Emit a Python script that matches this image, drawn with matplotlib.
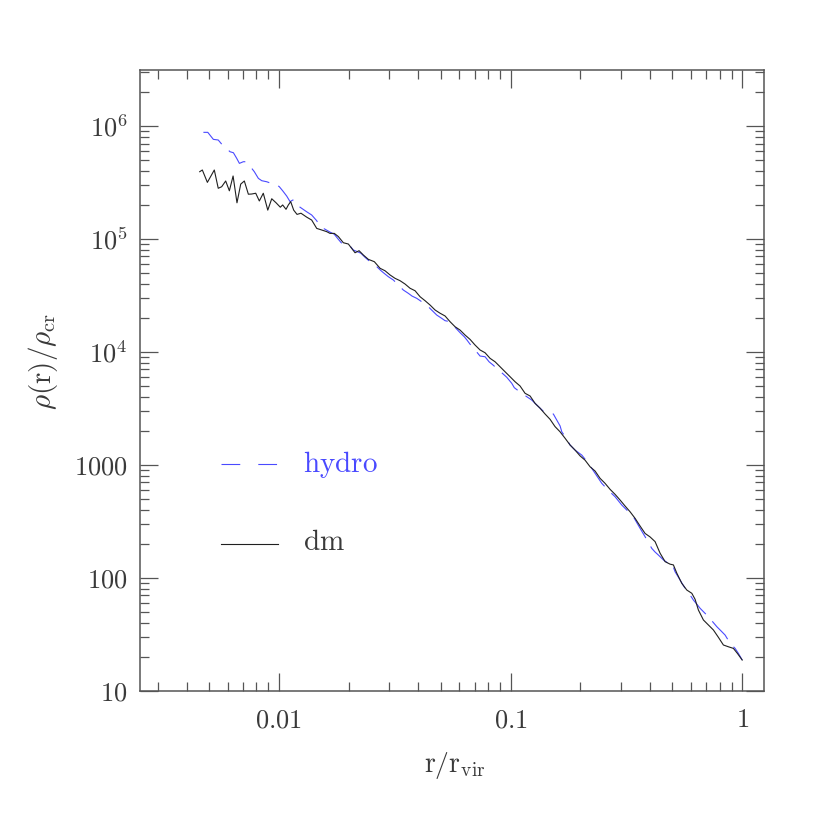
import matplotlib
matplotlib.use("Agg")
import matplotlib.pyplot as plt
from matplotlib.ticker import FixedLocator, FixedFormatter, NullFormatter

plt.rcParams['mathtext.fontset'] = 'cm'
plt.rcParams['lines.scale_dashes'] = False

# ---- data ----
r_dm = [0.00455, 0.00467, 0.00491, 0.00526, 0.00547, 0.00566, 0.00589, 0.00611, 0.00634, 0.00659,
        0.00684, 0.00709, 0.00738, 0.00763, 0.00794, 0.00823, 0.00856, 0.00895, 0.00931, 0.00972,
        0.01014, 0.01038, 0.01073, 0.01098, 0.01124, 0.01158, 0.01197, 0.01245, 0.01318, 0.01385,
        0.01456, 0.01531, 0.01609, 0.01662, 0.01734, 0.01805, 0.01897, 0.01994, 0.02131, 0.02218,
        0.02314, 0.02432, 0.02582, 0.02733, 0.02871, 0.03018, 0.03172, 0.03333, 0.03503, 0.03682,
        0.03870, 0.04067, 0.04274, 0.04492, 0.04721, 0.04962, 0.05215, 0.05481, 0.05760, 0.06053,
        0.06362, 0.06686, 0.07026, 0.07384, 0.07760, 0.08156, 0.08571, 0.09008, 0.09468, 0.09950,
        0.1046, 0.1099, 0.1155, 0.1214, 0.1276, 0.1341, 0.1409, 0.1481, 0.1556, 0.1636,
        0.1719, 0.1806, 0.1899, 0.1996, 0.2097, 0.2204, 0.2317, 0.2434, 0.2558, 0.2689,
        0.2826, 0.2970, 0.3121, 0.3281, 0.3448, 0.3624, 0.3808, 0.4002, 0.4206, 0.4421,
        0.4646, 0.4883, 0.5046, 0.5219, 0.5485, 0.5765, 0.6059, 0.6260, 0.6470, 0.6800,
        0.7146, 0.7510, 0.7893, 0.8295, 0.8718, 0.9162, 0.9534, 1.0]
rho_dm = [3.94e5, 4.08e5, 3.17e5, 4.08e5, 2.81e5, 2.90e5, 3.26e5, 2.67e5, 3.61e5, 2.09e5,
          3.06e5, 3.26e5, 2.49e5, 2.50e5, 2.54e5, 2.17e5, 2.54e5, 1.80e5, 2.27e5, 2.09e5,
          1.91e5, 2.00e5, 1.83e5, 2.00e5, 2.14e5, 1.80e5, 1.65e5, 1.69e5, 1.56e5, 1.47e5,
          1.24e5, 1.20e5, 1.16e5, 1.12e5, 1.12e5, 1.05e5, 9.26e4, 9.02e4, 7.55e4, 7.87e4,
          7.21e4, 6.60e4, 6.29e4, 5.50e4, 5.23e4, 4.80e4, 4.48e4, 4.27e4, 3.99e4, 3.66e4,
          3.48e4, 3.08e4, 2.84e4, 2.60e4, 2.35e4, 2.20e4, 2.08e4, 1.85e4, 1.67e4, 1.56e4,
          1.41e4, 1.29e4, 1.15e4, 1.04e4, 9830, 8770, 8180, 7390, 6670, 6030,
          5440, 4990, 4300, 4070, 3500, 3170, 2820, 2530, 2180, 1960,
          1720, 1500, 1350, 1200, 1100, 962, 881, 760, 686, 607,
          548, 488, 432, 384, 336, 287, 247, 230, 209, 165,
          139, 132, 130, 110, 89.3, 77.9, 72.9, 64.5, 51.8, 42.3,
          38.2, 34.5, 29.7, 25.4, 24.5, 23.7, 21.4, 18.7]

r_hydro = [0.00472, 0.00493, 0.00521, 0.00547, 0.00575, 0.00595, 0.00615, 0.00636, 0.00657, 0.00675,
           0.00702, 0.00719, 0.00738, 0.00763, 0.00783, 0.00815, 0.00843, 0.00886, 0.00925, 0.00972,
           0.01004, 0.01038, 0.01080, 0.01117, 0.01147, 0.01173, 0.01225, 0.01318, 0.01385, 0.01456,
           0.01505, 0.01581, 0.01662, 0.01734, 0.01805, 0.01867, 0.01963, 0.02028, 0.02095, 0.02174,
           0.02262, 0.02353, 0.02473, 0.02600, 0.02760, 0.02871, 0.02968, 0.03119, 0.03277, 0.03444,
           0.03620, 0.03756, 0.03936, 0.04136, 0.04416, 0.04800, 0.05011, 0.05215, 0.05481, 0.05760,
           0.06053, 0.06318, 0.06490, 0.06686, 0.07026, 0.07384, 0.07760, 0.08074, 0.08403, 0.08719,
           0.09162, 0.09630, 0.1012, 0.1038, 0.1077, 0.1118, 0.1175, 0.1234, 0.1297, 0.1381,
           0.1481, 0.1530, 0.1583, 0.1636, 0.1664, 0.1737, 0.1806, 0.1899, 0.2030, 0.2168,
           0.2317, 0.2476, 0.2636, 0.2826, 0.3020, 0.3175, 0.3390, 0.3624, 0.3808, 0.4071,
           0.4206, 0.4346, 0.4568, 0.4801, 0.4966, 0.5132, 0.5261, 0.5393, 0.5667, 0.5957,
           0.6156, 0.6387, 0.6579, 0.7146, 0.7770, 0.8109, 0.8437, 0.8867, 0.9318, 0.9629, 1.0]
rho_hydro = [8.79e5, 8.79e5, 7.62e5, 7.52e5, 6.65e5, 6.30e5, 5.92e5, 5.80e5, 5.18e5, 4.67e5,
             4.83e5, 4.83e5, 4.51e5, 4.22e5, 3.94e5, 3.44e5, 3.28e5, 3.21e5, 3.11e5, 3.05e5,
             2.90e5, 2.67e5, 2.40e5, 2.14e5, 2.21e5, 2.21e5, 1.93e5, 1.74e5, 1.63e5, 1.45e5,
             1.28e5, 1.22e5, 1.15e5, 1.10e5, 9.93e4, 9.15e4, 8.84e4, 8.66e4, 7.98e4, 7.74e4,
             7.46e4, 6.88e4, 6.29e4, 5.88e4, 5.23e4, 4.89e4, 4.63e4, 4.33e4, 3.91e4, 3.53e4,
             3.30e4, 3.12e4, 2.98e4, 2.78e4, 2.51e4, 2.12e4, 2.00e4, 1.89e4, 1.85e4, 1.65e4,
             1.48e4, 1.36e4, 1.27e4, 1.17e4, 1.04e4, 9190, 9060, 8180, 7650, 7150,
             6540, 5960, 5270, 4820, 4550, 4300, 4010, 3750, 3390, 3000,
             2860, 2820, 2490, 2210, 1960, 1730, 1500, 1350, 1220, 1030,
             841, 686, 598, 522, 441, 398, 347, 274, 231, 182,
             169, 159, 144, 134, 136, 113, 104, 95.5, 80.7, 70.4,
             63.5, 58.0, 53.7, 45.2, 36.9, 33.8, 31.1, 26.3, 23.7, 21.4, 18.7]

x_major = [0.01, 0.1, 1.0]
x_labels = ['0.01', '0.1', '1']
y_major = [10, 100, 1000, 1e4, 1e5, 1e6]
y_labels = ['10', '100', '1000', '10^{4}', '10^{5}', '10^{6}']
series_labels = ['hydro', 'dm']

# ---- styles ----
c_text = '#3a3a3a'
c_axis = '#555555'
c_blue = '#4a4aff'
c_dm = '#202020'
fs = 19

fig = plt.figure(figsize=(8.3, 8.3), dpi=100)
ax = fig.add_axes([0.1690, 0.1678, 0.7513, 0.7478])

ax.plot(r_hydro, rho_hydro, color=c_blue, lw=0.8, dashes=(17, 7))
ax.plot(r_dm, rho_dm, color=c_dm, lw=0.8)

ax.set_xscale('log')
ax.set_yscale('log')
ax.set_xlim(0.00252, 1.24)
ax.set_ylim(10, 3.13e6)

ax.xaxis.set_major_locator(FixedLocator(x_major))
ax.xaxis.set_major_formatter(FixedFormatter([r'$\mathrm{%s}$' % s for s in x_labels]))
ax.yaxis.set_major_locator(FixedLocator(y_major))
ax.yaxis.set_major_formatter(FixedFormatter([r'$\mathrm{%s}$' % s for s in y_labels]))
xminor = [m * 10.0 ** e for e in (-3, -2, -1) for m in range(2, 10)]
yminor = [m * 10.0 ** e for e in range(1, 7) for m in range(2, 10)]
ax.xaxis.set_minor_locator(FixedLocator(xminor))
ax.yaxis.set_minor_locator(FixedLocator(yminor))
ax.xaxis.set_minor_formatter(NullFormatter())
ax.yaxis.set_minor_formatter(NullFormatter())

ax.tick_params(which='both', direction='in', top=True, right=True, colors=c_axis,
               labelcolor=c_text, labelsize=fs)
ax.tick_params(which='major', length=13, width=0.9)
ax.tick_params(which='minor', length=6.5, width=0.9)
ax.tick_params(axis='x', which='major', pad=12)
ax.tick_params(axis='y', which='major', pad=9)
for sp in ax.spines.values():
    sp.set_color(c_axis)
    sp.set_linewidth(1.1)

ax.set_xlabel(r'$\mathrm{r/r_{vir}}$', fontsize=fs + 1, color=c_text)
ax.set_ylabel(r'$\rho(\mathrm{r})/\rho_{\mathrm{cr}}$', fontsize=fs + 2, color=c_text)
ax.xaxis.set_label_coords(0.505, -0.095)
ax.yaxis.set_label_coords(-0.128, 0.53)

# in-plot key
ax.plot([0.1294, 0.2208], [0.3652, 0.3652], transform=ax.transAxes,
        color=c_blue, lw=0.8, dashes=(13.5, 13))
ax.plot([0.1294, 0.2208], [0.2363, 0.2363], transform=ax.transAxes,
        color=c_dm, lw=0.8)
ax.text(0.261, 0.3528, r'$\mathrm{%s}$' % series_labels[0], transform=ax.transAxes,
        fontsize=21, color=c_blue, va='baseline', ha='left')
ax.text(0.261, 0.2267, r'$\mathrm{%s}$' % series_labels[1], transform=ax.transAxes,
        fontsize=21, color=c_text, va='baseline', ha='left')

fig.savefig('out.png', dpi=100)
